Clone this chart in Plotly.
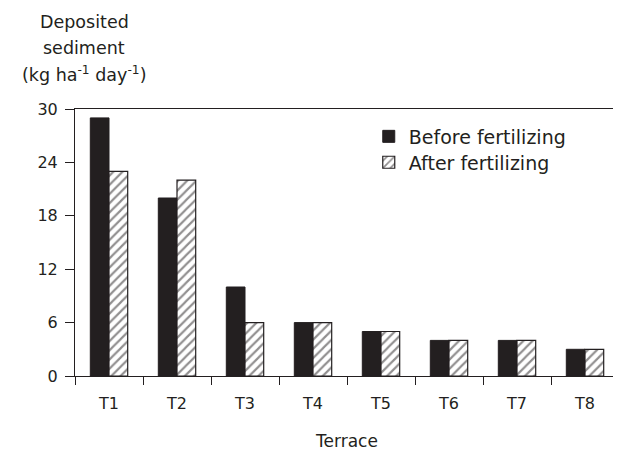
import plotly.graph_objects as go

terraces = ["T1", "T2", "T3", "T4", "T5", "T6", "T7", "T8"]
before_fert = [29, 20, 10, 6, 5, 4, 4, 3]
after_fert = [23, 22, 6, 6, 5, 4, 4, 3]
y_ticks = [0, 6, 12, 18, 24, 30]

INK = "#231f20"
FAM = "DejaVu Sans, Liberation Sans, Arial, sans-serif"
TICK_FONT = dict(family=FAM, size=16, color=INK)
TITLE_FONT = dict(family=FAM, size=17, color=INK)
YTITLE_FONT = dict(family=FAM, size=17.5, color=INK)
LEG_FONT = dict(family=FAM, size=19, color=INK)

fig = go.Figure()
fig.add_trace(go.Bar(
    x=terraces, y=before_fert, name="Before fertilizing",
    marker=dict(color=INK, line=dict(color=INK, width=1)),
    legend="legend",
))
fig.add_trace(go.Bar(
    x=terraces, y=after_fert, name="After fertilizing",
    marker=dict(color="white", line=dict(color=INK, width=1.2),
                pattern=dict(shape="/", fgcolor=INK, bgcolor="white",
                             size=6.5, solidity=0.33)),
    legend="legend2",
))

# page body adds an 8px offset, so the figure is sized to fill the rest
fig.update_layout(
    width=613, height=443,
    margin=dict(l=67, r=2, t=101, b=75),
    paper_bgcolor="white", plot_bgcolor="white",
    font=TICK_FONT,
    showlegend=True,
    barmode="group", bargap=0.45, bargroupgap=0,
    legend=dict(x=0.54, xanchor="left", y=0.897, yanchor="middle",
                bgcolor="rgba(0,0,0,0)", font=LEG_FONT, visible=True),
    legend2=dict(x=0.54, xanchor="left", y=0.80, yanchor="middle",
                 bgcolor="rgba(0,0,0,0)", font=LEG_FONT, visible=True),
    xaxis=dict(
        type="category", showline=True, linecolor=INK, linewidth=1, mirror=True,
        ticks="outside", tickson="boundaries", ticklen=8, tickcolor=INK,
        ticklabelstandoff=13, tickfont=TICK_FONT,
        showgrid=False, zeroline=False,
        title=dict(text="Terrace", font=TITLE_FONT, standoff=22),
    ),
    yaxis=dict(
        range=[0, 30], tickvals=y_ticks, showline=True, linecolor=INK,
        linewidth=1, mirror=True, ticks="outside", ticklen=9, tickcolor=INK,
        ticklabelstandoff=4, tickfont=TICK_FONT,
        showgrid=False, zeroline=False,
    ),
)

for txt, ypix in [("Deposited", 21.7), ("sediment", 47.7),
                  ("(kg ha<sup>-1</sup> day<sup>-1</sup>)", 73.5)]:
    fig.add_annotation(
        text=txt, xref="paper", yref="paper",
        x=(84 - 75) / 544, y=(376 - ypix) / 267,
        xanchor="center", yanchor="middle", showarrow=False, font=YTITLE_FONT,
    )

fig.write_html("out.html")
